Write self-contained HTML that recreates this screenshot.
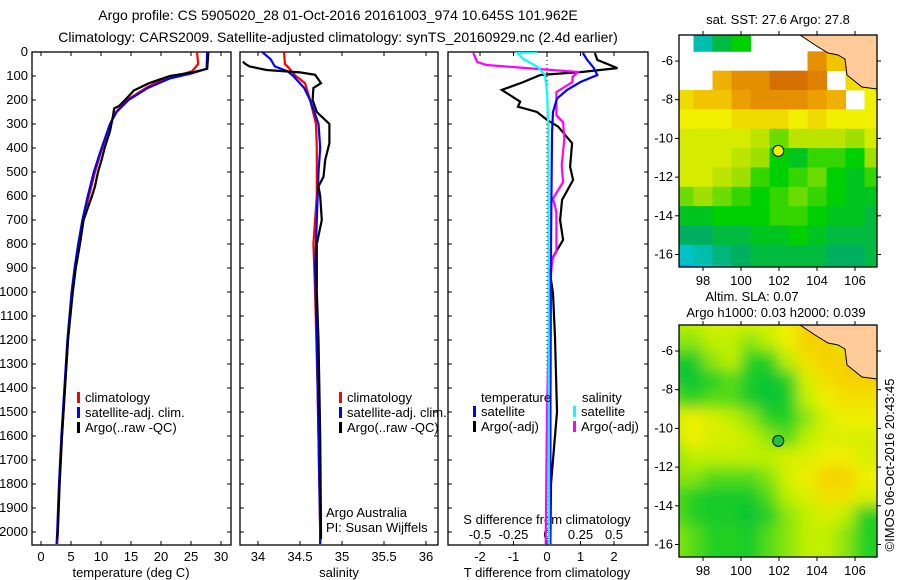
<!DOCTYPE html>
<html><head><meta charset="utf-8"><style>
body{margin:0;background:#fff}
svg{display:block;font-family:"Liberation Sans",Arial,sans-serif}
text{font-size:13px;fill:#000}
</style></head><body>
<svg id="s" width="900" height="580" viewBox="0 0 900 580">
<defs>
<clipPath id="c1"><rect x="32" y="52" width="199" height="493"/></clipPath>
<clipPath id="c2"><rect x="240" y="52" width="198" height="493"/></clipPath>
<clipPath id="c3"><rect x="448" y="52" width="200" height="493"/></clipPath>
<clipPath id="cm1"><rect x="679" y="35" width="198" height="232"/></clipPath>
<clipPath id="cm2"><rect x="679" y="325" width="198" height="232"/></clipPath>
<filter id="bl" x="-5%" y="-5%" width="110%" height="110%"><feGaussianBlur stdDeviation="7"/></filter>
</defs>
<text x="338" y="20" text-anchor="middle" style="font-size:14px">Argo profile: CS 5905020_28 01-Oct-2016 20161003_974 10.645S 101.962E</text>
<text x="338" y="42" text-anchor="middle" style="font-size:14px">Climatology: CARS2009. Satellite-adjusted climatology: synTS_20160929.nc (2.4d earlier)</text>
<g id="g"></g>
</svg>
<script>
// ---- data: temperature panel ----
const tDepthClim=[0,50,80,100,130,150,200,250,300,400,500,600,700,800,900,1000,1200,1400,1600,1800,2000,2050];
const tClim=[26.0,26.2,25.2,22.5,19.0,17.5,14.3,12.5,11.5,10.2,9.0,8.0,7.0,6.3,5.7,5.2,4.5,4.0,3.5,3.1,2.8,2.7];
const tDepthSat=[0,70,90,110,150,200,250,300,400,500,600,700,800,900,1000,1200,1400,1600,1800,2000,2050];
const tSat=[27.7,27.6,25,21.5,17.8,14.6,12.6,11.5,10.1,8.8,7.8,6.9,6.2,5.6,5.1,4.4,3.9,3.4,3.0,2.7,2.6];
const tDepthArgo=[0,70,85,100,130,160,200,225,235,280,330,400,450,500,560,600,650,700,800,900,1000,1200,1400,1600,1800,2000,2030];
const tArgo=[27.9,27.7,25.2,21.5,18.0,15.5,14.0,13.0,12.2,11.9,11.5,10.6,10.1,9.5,9.0,8.5,7.8,7.1,6.5,5.8,5.3,4.5,4.0,3.5,3.1,2.8,2.7];
const tTicks=[0,5,10,15,20,25,30];
// ---- salinity panel ----
const sDepthClim=[0,50,60,100,130,200,300,400,600,800,1000,1400,2000,2050];
const sClim=[34.31,34.32,34.35,34.45,34.56,34.62,34.69,34.70,34.70,34.66,34.68,34.71,34.74,34.74];
const sDepthSat=[0,30,60,80,100,150,200,300,400,500,700,900,1200,2000,2050];
const sSat=[34.05,34.15,34.2,34.35,34.42,34.55,34.62,34.72,34.74,34.72,34.70,34.68,34.70,34.74,34.74];
const sDepthArgo=[40,50,60,75,85,95,130,150,200,250,300,380,450,520,560,600,700,800,900,1000,1200,1600,2000,2030];
const sArgo=[33.82,33.85,33.9,34.1,34.5,34.68,34.75,34.66,34.65,34.7,34.85,34.85,34.8,34.78,34.72,34.74,34.76,34.7,34.7,34.7,34.72,34.74,34.75,34.75];
const sTicks=[34,34.5,35,35.5,36];
// ---- difference panel ----
const dtDepthArgo=[4,33,67,83,96,125,158,207,228,250,283,311,380,478,533,616,700,783,854,922,1005,1188,1500,1800,2030];
const dtArgo=[1.43,1.5,2.1,1.07,-0.2,-0.7,-1.35,-0.8,-0.87,-0.3,0,0.33,0.75,0.69,0.78,0.45,0.39,0.48,0.18,0.09,0.18,0.24,0.3,0.12,0.1];
const dtDepthSat=[4,33,67,96,125,158,194,250,340,800,1500,2050];
const dtSat=[1.07,1.2,1.4,1.5,1.0,0.6,0.3,0.18,0.15,0.12,0.1,0.1];
const dsDepthArgo=[4,42,54,67,83,104,125,167,264,292,361,472,542,611,667,833,861,986,1500,2050];
const dsArgo=[-0.55,-0.52,-0.45,-0.15,0.23,0.19,0.19,0.07,0.07,0.12,0.13,0.11,0.12,0.045,0.07,0.07,0.04,0.02,0.0,-0.01];
const dsDepthSat=[0,4,28,62,96,167,306,1000,2050];
const dsSat=[-0.07,-0.22,-0.18,-0.07,-0.015,0,0.01,0.012,0.015];
const dtTicks=[-2,-1,0,1,2];
const dsTicks=[-0.5,-0.25,0,0.25,0.5];
const dsTickLabels=['-0.5','-0.25','0','0.25','0.5'];
const depthTicks=[0,100,200,300,400,500,600,700,800,900,1000,1100,1200,1300,1400,1500,1600,1700,1800,1900,2000];
// ---- maps ----
const mapLons=[97,98,99,100,101,102,103,104,105,106,107];
const mapLats=[-5,-6,-7,-8,-9,-10,-11,-12,-13,-14,-15,-16,-17];
const sst=[
[null,26.6,27.0,27.2,null,null,null,null,null,28.3,28.4],
[null,null,null,null,null,null,null,28.3,28.0,28.1,28.3],
[null,null,28.1,28.3,28.3,28.5,28.5,28.4,null,27.9,27.8],
[27.9,28.0,28.0,28.2,28.3,28.3,28.3,28.2,28.1,null,27.8],
[27.8,27.8,27.8,27.9,27.9,27.9,27.8,27.9,27.8,27.8,27.8],
[27.7,27.7,27.7,27.7,27.6,27.4,27.6,27.6,27.6,27.5,27.7],
[27.7,27.7,27.7,27.6,27.5,27.2,27.1,27.3,27.3,27.2,27.5],
[27.7,27.7,27.6,27.5,27.3,27.2,27.3,27.4,27.2,27.1,27.3],
[27.4,27.5,27.4,27.3,27.2,27.3,27.4,27.3,27.2,27.1,27.1],
[27.1,27.1,27.2,27.2,27.2,27.3,27.3,27.2,27.1,27.1,27.0],
[26.9,26.9,27.0,27.0,27.1,27.1,27.2,27.1,27.0,27.0,27.0],
[26.5,26.6,26.8,26.9,27.0,27.0,27.0,27.0,26.9,26.9,27.0],
[26.3,26.5,26.7,26.9,27.0,27.0,27.0,27.0,26.9,26.9,27.0]];
const sla=[
[.08,.08,.09,.09,.09,.09,.10,.12,.12,.10,.07],
[.07,.07,.08,.08,.07,.08,.10,.12,.12,.09,.07],
[.04,.04,.07,.08,.05,.05,.08,.11,.12,.12,.12],
[.04,.03,.05,.06,.04,.03,.05,.09,.11,.12,.12],
[.06,.05,.06,.06,.04,.03,.04,.08,.10,.11,.11],
[.09,.10,.09,.08,.07,.05,.05,.07,.09,.10,.10],
[.08,.10,.09,.09,.08,.07,.06,.08,.09,.09,.09],
[.07,.08,.08,.08,.08,.08,.09,.09,.10,.10,.09],
[.07,.07,.06,.06,.06,.07,.09,.10,.12,.12,.10],
[.06,.05,.04,.04,.04,.06,.08,.09,.11,.11,.09],
[.06,.05,.04,.04,.03,.05,.07,.08,.09,.08,.05],
[.07,.06,.05,.05,.04,.06,.07,.08,.08,.07,.05],
[.07,.06,.05,.05,.04,.06,.07,.08,.08,.07,.05]];
const argoLon=101.962, argoLat=-10.645;
const lonTicks=[98,100,102,104,106];
const latTicks=[-6,-8,-10,-12,-14,-16];

const NS='http://www.w3.org/2000/svg';
const G=document.getElementById('g');
function el(t,a,p){const e=document.createElementNS(NS,t);for(const k in a)e.setAttribute(k,a[k]);(p||G).appendChild(e);return e;}
function txt(x,y,s,anchor,p){const e=el('text',{x:x,y:y,'text-anchor':anchor||'start'},p);e.textContent=s;return e;}
const yD=d=>52+d*0.24;
const xT=v=>41+6*v;
const xS=v=>258+84*(v-34);
const xdT=v=>547+33.5*v;
const xdS=v=>547+134*v;
function line(ds,vs,xf,col,clip,name){
  let d='';for(let i=0;i<ds.length;i++)d+=(i?'L':'M')+xf(vs[i]).toFixed(1)+','+yD(ds[i]).toFixed(1);
  const p=el('path',{d:d,fill:'none',stroke:col,'stroke-width':2.2,'clip-path':'url(#'+clip+')'});
  
  
}
function frame(x,w,name){
  const r=el('rect',{x:x,y:52,width:w,height:493,fill:'none',stroke:'#000','stroke-width':1.3});
  
  
  depthTicks.forEach(d=>{el('line',{x1:x,x2:x+4,y1:yD(d),y2:yD(d),stroke:'#000'});el('line',{x1:x+w-4,x2:x+w,y1:yD(d),y2:yD(d),stroke:'#000'});});
}
// panel 1
frame(32,199,'temperature-plot-frame');
depthTicks.forEach(d=>{const t=txt(28,yD(d)+4,String(d),'end');});
tTicks.forEach(v=>{el('line',{x1:xT(v),x2:xT(v),y1:52,y2:56,stroke:'#000'});el('line',{x1:xT(v),x2:xT(v),y1:541,y2:545,stroke:'#000'});const t=txt(xT(v),561,String(v),'middle');});
{const t=txt(131,577,'temperature (deg C)','middle');}
line(tDepthClim,tClim,xT,'#f00','c1','temperature-climatology-line');
line(tDepthSat,tSat,xT,'#00f','c1','temperature-satellite-line');
line(tDepthArgo,tArgo,xT,'#000','c1','temperature-argo-line');
// panel 2
frame(240,198,'salinity-plot-frame');
sTicks.forEach(v=>{el('line',{x1:xS(v),x2:xS(v),y1:52,y2:56,stroke:'#000'});el('line',{x1:xS(v),x2:xS(v),y1:541,y2:545,stroke:'#000'});const t=txt(xS(v),561,String(v),'middle');});
{const t=txt(339,577,'salinity','middle');}
line(sDepthClim,sClim,xS,'#f00','c2','salinity-climatology-line');
line(sDepthSat,sSat,xS,'#00f','c2','salinity-satellite-line');
line(sDepthArgo,sArgo,xS,'#000','c2','salinity-argo-line');
// panel 3
frame(448,200,'difference-plot-frame');
el('line',{x1:547,x2:547,y1:52,y2:545,stroke:'#000','stroke-dasharray':'1,3'});
dtTicks.forEach(v=>{el('line',{x1:xdT(v),x2:xdT(v),y1:52,y2:56,stroke:'#000'});el('line',{x1:xdT(v),x2:xdT(v),y1:541,y2:545,stroke:'#000'});const t=txt(xdT(v),561,String(v),'middle');});
dsTicks.forEach((v,i)=>{const t=txt(xdS(v),539,dsTickLabels[i],'middle');});
{const t=txt(547,577,'T difference from climatology','middle');}
{const t=txt(547,524,'S difference from climatology','middle');}
line(dtDepthArgo,dtArgo,xdT,'#000','c3','t-diff-argo-line');
line(dsDepthArgo,dsArgo,xdS,'#f0f','c3','s-diff-argo-line');
line(dtDepthSat,dtSat,xdT,'#00f','c3','t-diff-satellite-line');
line(dsDepthSat,dsSat,xdS,'#0ff','c3','s-diff-satellite-line');
// legends
function leg(x,y,col,s,name){el('rect',{x:x,y:y-10,width:3,height:11,fill:col});const t=txt(x+8,y,s);}
leg(77,402,'#f00','climatology','legend-climatology');
leg(77,417,'#00f','satellite-adj. clim.','legend-satellite-adj');
leg(77,432,'#000','Argo(..raw -QC)','legend-argo');
leg(339,402,'#f00','climatology','legend-climatology-2');
leg(339,417,'#00f','satellite-adj. clim.','legend-satellite-adj-2');
leg(339,432,'#000','Argo(..raw -QC)','legend-argo-2');
txt(481,402,'temperature');txt(582,402,'salinity');
leg(473,416,'#00f','satellite','legend-t-satellite');
leg(473,431,'#000','Argo(-adj)','legend-t-argo');
leg(573,416,'#0ff','satellite','legend-s-satellite');
leg(573,431,'#f0f','Argo(-adj)','legend-s-argo');
txt(326,517,'Argo Australia');txt(326,532,'PI: Susan Wijffels');
// maps
function interp(stops,v){
  if(v<=stops[0][0])return 'rgb('+stops[0][1].join(',')+')';
  for(let i=1;i<stops.length;i++)if(v<=stops[i][0]){const a=stops[i-1],b=stops[i],f=(v-a[0])/(b[0]-a[0]);
    return 'rgb('+[0,1,2].map(k=>Math.round(a[1][k]+(b[1][k]-a[1][k])*f)).join(',')+')';}
  const l=stops[stops.length-1][1];return 'rgb('+l.join(',')+')';
}
const sstStops=[[26.0,[0,80,255]],[26.4,[0,200,224]],[26.9,[0,176,96]],[27.2,[0,208,0]],[27.5,[160,224,0]],[27.8,[240,240,0]],[28.1,[240,176,0]],[28.4,[224,128,0]],[28.7,[192,80,0]]];
const slaStops=[[0.02,[0,192,64]],[0.05,[32,208,32]],[0.08,[192,240,0]],[0.10,[240,240,0]],[0.13,[248,192,0]]];
function drawMap(y0,grid,stops,clip,blur,name,argoFill){
  const mx=lon=>703+19*(lon-98), my=lat=>y0+26+(-6-lat)*19.35;
  const g=el('g',{'clip-path':'url(#'+clip+')'});
  
  
  el('rect',{x:679,y:y0,width:198,height:232,fill:'#fff'},g);
  const inner=el('g',blur?{filter:'url(#bl)'}:{},g);
  grid.forEach((row,i)=>row.forEach((v,j)=>{
    if(v===null)return;
    const c=el('rect',{x:mx(mapLons[j]-0.5)-(blur?10:0),y:my(mapLats[i]+0.5)-(blur?10:0),width:19.5+(blur?20:0),height:19.8+(blur?20:0),fill:interp(stops,v)},inner);
    
    
  }));
  const land=el('path',{d:`M800,${y0}L815,${y0+10}L828,${y0+18}L838,${y0+20}L845,${y0+24}L847,${y0+40}L862,${y0+52}L877,${y0+54}L877,${y0}Z`,fill:'#ffcc99',stroke:'#000','stroke-width':1},g);
  
  const c=el('circle',{cx:mx(argoLon),cy:my(argoLat),r:5.5,fill:argoFill,stroke:'#000','stroke-width':1},g);
  
  el('rect',{x:679,y:y0,width:198,height:232,fill:'none',stroke:'#000','stroke-width':1.3});
  lonTicks.forEach(l=>{el('line',{x1:mx(l),x2:mx(l),y1:y0-4,y2:y0,stroke:'#000'});el('line',{x1:mx(l),x2:mx(l),y1:y0+232,y2:y0+236,stroke:'#000'});const t=txt(mx(l),y0+250,String(l),'middle');});
  latTicks.forEach(l=>{el('line',{x1:675,x2:679,y1:my(l),y2:my(l),stroke:'#000'});el('line',{x1:877,x2:881,y1:my(l),y2:my(l),stroke:'#000'});const t=txt(673,my(l)+4,String(l),'end');});
}
drawMap(35,sst,sstStops,'cm1',false,'sst-map','#f0f000');
drawMap(325,sla,slaStops,'cm2',true,'sla-map','#20c040');
{const t=txt(778,24,'sat. SST: 27.6 Argo: 27.8','middle');}
{const t=txt(752,301,'Altim. SLA: 0.07','middle');}
{const t=txt(776,317,'Argo h1000: 0.03 h2000: 0.039','middle');}
{const t=txt(0,0,'©IMOS 06-Oct-2016 20:43:45','middle');t.setAttribute('transform','translate(894,465) rotate(-90)');}
</script>
</body></html>
